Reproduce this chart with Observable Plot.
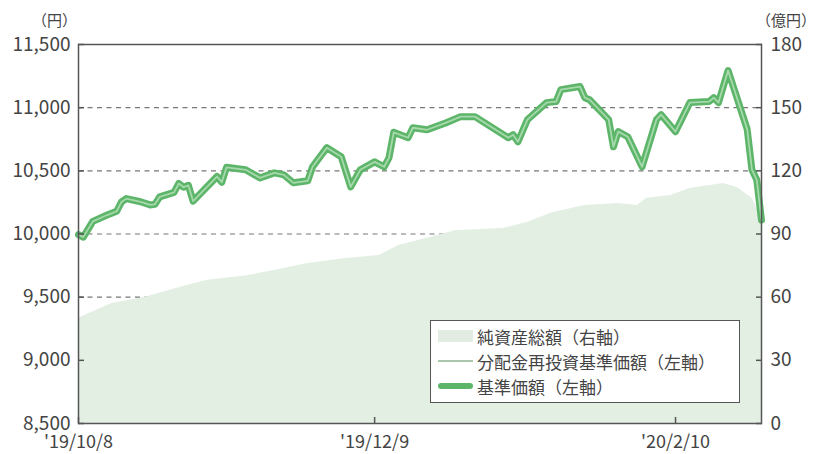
<!DOCTYPE html>
<html><head><meta charset="utf-8">
<script src="https://cdn.jsdelivr.net/npm/d3@7"></script>
<script src="https://cdn.jsdelivr.net/npm/@observablehq/plot@0.6"></script>
<style>
body{margin:0;background:#fff;}
#wrap{position:relative;width:815px;height:454px;font-family:'Noto Sans CJK JP',sans-serif;color:#444;}
.unit{position:absolute;top:10px;font-size:15px;line-height:20px;}
#legend{position:absolute;left:430px;top:320px;width:310px;height:83px;border:1.5px solid #555;background:#fff;box-sizing:border-box;}
.row{position:absolute;left:7px;height:24px;display:flex;align-items:center;font-size:17px;color:#444;white-space:nowrap;}
.sw{width:35px;height:12px;margin-right:4px;position:relative;}
#chart svg text{font-size:19px;fill:#444;}
#chart svg g[aria-label="x-axis tick label"] text{font-size:18px;}
</style></head>
<body>
<div id="wrap">
  <div class="unit" style="left:32px">（円）</div>
  <div class="unit" style="left:756px">（億円）</div>
  <div id="chart"></div>
  <div id="legend"></div>
</div>
<script>
// 基準価額 / 分配金再投資基準価額 (円)
const navDates = ["2019-10-08","2019-10-09","2019-10-11","2019-10-14","2019-10-16","2019-10-17","2019-10-18","2019-10-21","2019-10-23","2019-10-24","2019-10-25","2019-10-28","2019-10-29","2019-10-30","2019-10-31","2019-11-01","2019-11-06","2019-11-07","2019-11-08","2019-11-12","2019-11-15","2019-11-18","2019-11-20","2019-11-22","2019-11-25","2019-11-26","2019-11-29","2019-12-02","2019-12-04","2019-12-06","2019-12-09","2019-12-11","2019-12-12","2019-12-13","2019-12-16","2019-12-17","2019-12-20","2019-12-24","2019-12-27","2019-12-30","2020-01-06","2020-01-07","2020-01-08","2020-01-10","2020-01-14","2020-01-16","2020-01-17","2020-01-21","2020-01-22","2020-01-23","2020-01-27","2020-01-28","2020-01-29","2020-01-31","2020-02-03","2020-02-06","2020-02-07","2020-02-10","2020-02-13","2020-02-17","2020-02-18","2020-02-19","2020-02-21","2020-02-25","2020-02-26","2020-02-27","2020-02-28"];
const navValues = [9995,9975,10100,10150,10180,10254,10280,10255,10230,10235,10294,10330,10400,10370,10385,10260,10455,10410,10528,10508,10444,10484,10468,10405,10421,10532,10683,10611,10373,10508,10571,10532,10603,10805,10762,10841,10825,10881,10929,10929,10762,10786,10730,10905,11040,11048,11143,11167,11079,11063,10905,10690,10810,10770,10532,10905,10944,10810,11040,11048,11079,11040,11294,10830,10508,10430,10111];

// 純資産総額 (億円)
const assetDates = ["2019-10-08","2019-10-15","2019-10-22","2019-10-29","2019-11-04","2019-11-12","2019-11-18","2019-11-25","2019-12-03","2019-12-10","2019-12-14","2019-12-20","2019-12-26","2020-01-05","2020-01-10","2020-01-15","2020-01-22","2020-01-29","2020-02-02","2020-02-04","2020-02-09","2020-02-13","2020-02-20","2020-02-23","2020-02-26","2020-02-28"];
const assetValues = [50,57,60,64.5,68,70,72.7,76,78.4,79.8,84.5,88,91.7,92.6,95.5,100,103.5,104.5,103.5,107,108.3,111.6,114,112,107,98];

const leftTicks = [8500,9000,9500,10000,10500,11000,11500];
const gridTicks = [9000,9500,10000,10500,11000];
const rightTicks = [0,30,60,90,120,150,180];
const xTickDates = ["2019-10-08","2019-12-09","2020-02-10"];
const xTickLabels = ["'19/10/8","'19/12/9","'20/2/10"];

const Y0 = 8500, Y1 = 11500, R1 = 180;
const conv = v => Y0 + v * (Y1 - Y0) / R1;
const nav = navDates.map((d,i)=>({date:new Date(d), v:navValues[i]}));
const assets = assetDates.map((d,i)=>({date:new Date(d), v:assetValues[i]}));
const xLabelMap = new Map(xTickDates.map((d,i)=>[+new Date(d), xTickLabels[i]]));

const chart = Plot.plot({
  width: 815, height: 454,
  marginLeft: 78, marginRight: 54, marginTop: 44, marginBottom: 31,
  style: {fontFamily: "'Noto Sans CJK JP', sans-serif", fontSize: "19px", color: "#444", background: "#fff"},
  x: {type: "utc", domain: [new Date("2019-10-08"), new Date("2020-02-28")]},
  y: {domain: [Y0, Y1]},
  marks: [
    Plot.ruleY(gridTicks, {stroke: "#777", strokeWidth: 1.2, strokeDasharray: "5,4.5"}),
    Plot.areaY(assets, {x: "date", y1: Y0, y2: d => conv(d.v), fill: "#e3efe3"}),
    Plot.line(nav, {x: "date", y: "v", stroke: "#5db56a", strokeWidth: 7, strokeLinejoin: "round", strokeLinecap: "round"}),
    Plot.line(nav, {x: "date", y: "v", stroke: "#a6d9ab", strokeWidth: 1.8, strokeLinejoin: "round"}),
    Plot.frame({stroke: "#555", strokeWidth: 1.5}),
    Plot.axisY(leftTicks, {anchor: "left", tickFormat: d3.format(","), tickSize: -6, tickPadding: 14, stroke: "#555", strokeWidth: 1.5, label: null}),
    Plot.axisY(rightTicks.map(conv), {anchor: "right", tickFormat: d => String(Math.round((d - Y0) * R1 / (Y1 - Y0))), tickSize: -6, tickPadding: 15, stroke: "#555", strokeWidth: 1.5, label: null}),
    Plot.axisX(xTickDates.map(d => new Date(d)), {anchor: "bottom", tickFormat: d => xLabelMap.get(+d), tickSize: -6, tickPadding: 18, stroke: "#555", strokeWidth: 1.5, label: null})
  ]
});
document.getElementById("chart").appendChild(chart);

// legend
const legendItems = ["純資産総額（右軸）","分配金再投資基準価額（左軸）","基準価額（左軸）"];
const legendTypes = ["area","thin","thick"];
const lg = document.getElementById("legend");
legendItems.forEach((t,i)=>{
  const row = document.createElement("div");
  row.className = "row";
  row.style.top = (3 + i*25) + "px";
  let sw = "";
  if (legendTypes[i]==="area") sw = '<svg class="sw" width="35" height="12"><rect x="0" y="0" width="35" height="12" fill="#e3ece3"/></svg>';
  if (legendTypes[i]==="thin") sw = '<svg class="sw" width="35" height="12"><line x1="0" x2="35" y1="6" y2="6" stroke="#8fb593" stroke-width="1.5"/></svg>';
  if (legendTypes[i]==="thick") sw = '<svg class="sw" width="35" height="12"><line x1="3" x2="32" y1="6" y2="6" stroke="#5db56a" stroke-width="6" stroke-linecap="round"/></svg>';
  row.innerHTML = sw + "<span>" + t + "</span>";
  lg.appendChild(row);
});
</script>
</body></html>
